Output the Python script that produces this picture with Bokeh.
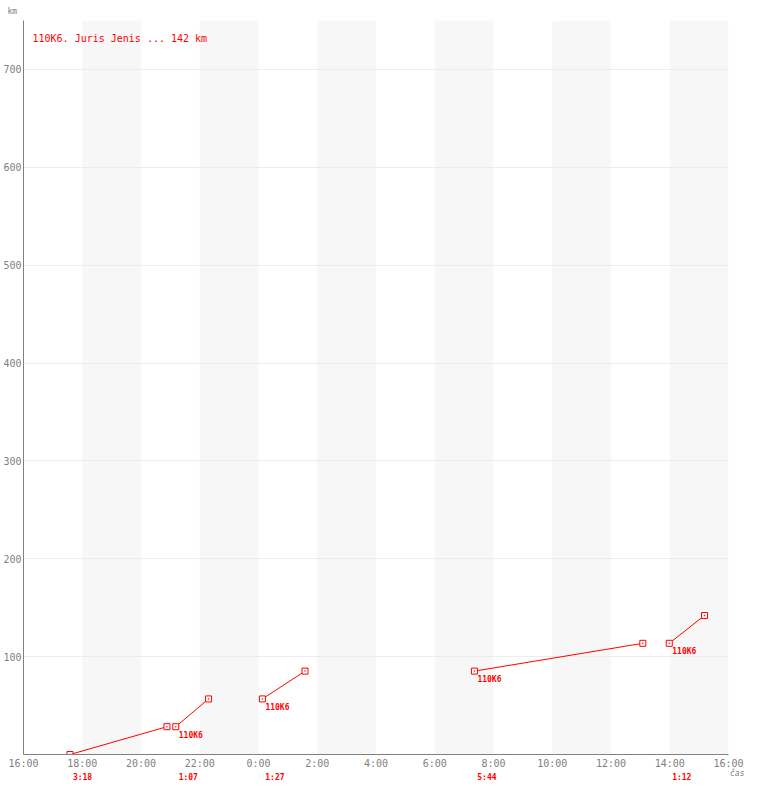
from bokeh.plotting import figure
from bokeh.models import (ColumnDataSource, FixedTicker, LabelSet, Label,
                          LinearAxis, Title)
from bokeh.core.properties import value
from bokeh.embed import file_html
from bokeh.resources import INLINE

# ---------------- data ----------------
tick_labels = ["16:00", "18:00", "20:00", "22:00", "0:00", "2:00", "4:00",
               "6:00", "8:00", "10:00", "12:00", "14:00", "16:00"]
y_ticks = [100, 200, 300, 400, 500, 600, 700]
seg_start_time = ["17:35", "21:11", "0:08", "7:21", "13:59"]
seg_end_time = ["20:53", "22:18", "1:35", "13:05", "15:11"]
seg_start_km = [0, 28.4, 56.8, 85.2, 113.6]
seg_end_km = [28.4, 56.8, 85.2, 113.6, 142]
seg_duration = ["3:18", "1:07", "1:27", "5:44", "1:12"]
seg_label = ["", "110K6", "110K6", "110K6", "110K6"]
title_text = "110K6. Juris Jenis ... 142 km"
x_axis_name = "čas"
y_axis_name = "km"
y_max = 750


def hrs(t):
    h, m = map(int, t.split(":"))
    return (h + m / 60 - 16) % 24


tick_pos = [2 * i for i in range(len(tick_labels))]
x0 = [hrs(t) for t in seg_start_time]
x1 = [hrs(t) for t in seg_end_time]
x1 = [b if b > a else b + 24 for a, b in zip(x0, x1)]

RED = "#ff0000"
GREY = "#808080"
MONO = "DejaVu Sans Mono"
SMALL = "monospace"

W, H = 744, 784
BORDER_R = 16
FRAME_W = W - BORDER_R - 23          # approx. frame width in px
PX_PER_H = FRAME_W / (tick_pos[-1] - tick_pos[0])
DUR_SHIFT_PX = 12.5                  # left-aligned look for duration labels

p = figure(width=W, height=H, x_range=(tick_pos[0], tick_pos[-1]),
           y_range=(0, y_max), output_backend="svg", toolbar_location=None,
           min_border_left=0, min_border_right=BORDER_R, min_border_top=0,
           min_border_bottom=0)
p.outline_line_color = None
p.background_fill_color = "white"
p.border_fill_color = "white"

# alternating bands
band_src = ColumnDataSource(dict(left=tick_pos[1:-1:2], right=tick_pos[2::2]))
bands = p.quad(left="left", right="right", bottom=0, top=y_max, source=band_src,
               fill_color="#f7f7f7", line_color=None)
bands.level = "image"

# axes
xa = p.xaxis[0]
xa.ticker = FixedTicker(ticks=tick_pos)
xa.major_label_overrides = {t: l for t, l in zip(tick_pos, tick_labels)}
ya = p.yaxis[0]
ya.ticker = FixedTicker(ticks=y_ticks)
for ax in (xa, ya):
    ax.axis_line_color = GREY
    ax.axis_line_width = 1
    ax.major_tick_out = 0
    ax.major_tick_in = 0
    ax.minor_tick_out = 0
    ax.minor_tick_in = 0
    ax.major_label_text_font = MONO
    ax.major_label_text_font_size = "10px"
    ax.major_label_text_color = GREY
xa.major_label_standoff = 3
ya.major_label_standoff = 2

# x axis name, pulled down onto the durations row (negative standoff)
cas = Title(text=x_axis_name, align="right", offset=-16, standoff=0,
            text_font=SMALL, text_font_size="8px",
            text_font_style="italic", text_color=GREY)
cas.standoff = -10
p.add_layout(cas, "below")

# durations row under the time axis
dur_ticks = [x + DUR_SHIFT_PX / PX_PER_H for x in x0]
dur_axis = LinearAxis(ticker=FixedTicker(ticks=dur_ticks),
                      major_label_overrides={t: s for t, s in zip(dur_ticks, seg_duration)},
                      axis_line_color=None, major_tick_out=0, major_tick_in=0,
                      minor_tick_out=0, minor_tick_in=0,
                      major_label_standoff=0,
                      major_label_text_font=SMALL,
                      major_label_text_font_size="8px",
                      major_label_text_font_style="bold",
                      major_label_text_color=RED)
p.add_layout(dur_axis, "below")

p.add_layout(Title(text=y_axis_name, align="left", offset=-16, standoff=9,
                   text_font=MONO, text_font_size="8px",
                   text_font_style="normal", text_color=GREY), "above")

p.xgrid.visible = False
p.ygrid.ticker = FixedTicker(ticks=y_ticks)
p.ygrid.grid_line_color = "#ececec"

# segments
src = ColumnDataSource(dict(x0=x0, x1=x1, y0=seg_start_km, y1=seg_end_km,
                            lab=seg_label))
p.segment(x0="x0", y0="y0", x1="x1", y1="y1", source=src,
          line_color=RED, line_width=1)
p.scatter(x="x0", y="y0", source=src, marker="square_dot", size=6,
          line_color=RED, fill_color="white", line_width=1)
p.scatter(x="x1", y="y1", source=src, marker="square_dot", size=6,
          line_color=RED, fill_color="white", line_width=1)

p.add_layout(LabelSet(x="x0", y="y0", text="lab", source=src, x_offset=3,
                      y_offset=-4, text_baseline="top", text_align="left",
                      text_font=value(SMALL), text_font_size=value("8px"),
                      text_font_style="bold", text_color=RED))

p.add_layout(Label(x=tick_pos[0], y=y_max, x_offset=9, y_offset=-18,
                   text=title_text, text_baseline="middle", text_align="left",
                   text_font=MONO, text_font_size="10px", text_color=RED))

open("out.html", "w").write(file_html(p, INLINE))
